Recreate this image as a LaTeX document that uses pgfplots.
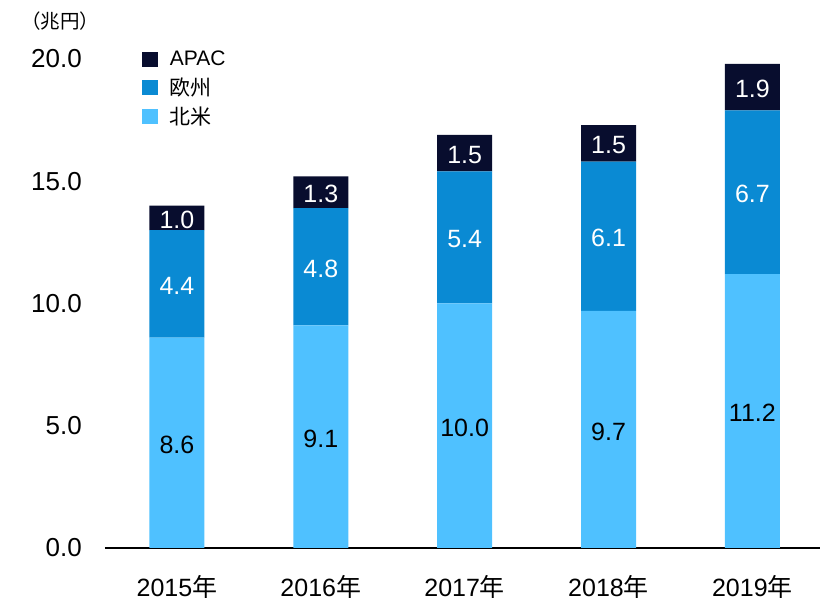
\documentclass[border=0pt]{standalone}
\usepackage{fontspec}
\setmainfont{Liberation Sans}
\newfontfamily\cjk{Noto Sans CJK JP}
\usepackage{pgfplots}
\pgfplotsset{compat=1.18}
\usepackage{pgfplotstable}
\definecolor{apac}{HTML}{080D2E}
\definecolor{eu}{HTML}{0A8AD3}
\definecolor{na}{HTML}{4FC1FF}

% values in trillion yen; m* columns are the segment midpoints for the labels
\pgfplotstableread{
x na   eu  ap  mna  meu   map
0 8.6  4.4 1.0 4.3  10.8  13.5
1 9.1  4.8 1.3 4.55 11.5  14.55
2 10.0 5.4 1.5 5.0  12.7  16.15
3 9.7  6.1 1.5 4.85 12.75 16.55
4 11.2 6.7 1.9 5.6  14.55 18.85
}\sales

\pgfplotsset{base/.style={scale only axis, width=715pt, height=489pt,
  xmin=-0.5, xmax=4.47, ymin=0, ymax=20, at={(105pt,53pt)}, anchor=south west}}
\newcommand\bigtxt{\fontsize{25}{30}\selectfont}

\begin{document}
\begin{tikzpicture}
\useasboundingbox (0,0) rectangle (828pt,601pt);
\begin{axis}[base, ybar stacked, bar width=55pt,
  axis x line*=bottom, axis y line*=left,
  axis line style={-}, y axis line style={draw=none}, x axis line style={line width=1.3pt},
  major tick length=0pt, xtick style={draw=none}, ytick style={draw=none},
  xtick=data, xticklabels={2015{\cjk 年},2016{\cjk 年},2017{\cjk 年},2018{\cjk 年},2019{\cjk 年}},
  ytick={0,5,10,15,20},
  xticklabel style={font=\bigtxt, inner sep=0pt, anchor=base, yshift=-49pt, text depth=0pt},
  yticklabel style={font=\fontsize{26}{30}\selectfont, inner sep=0pt, anchor=east, xshift=-23pt,
    /pgf/number format/.cd, fixed, fixed zerofill, precision=1, assume math mode=true},
  legend style={at={(0.052,1.021)}, anchor=north west, draw=none, fill=none,
    font=\fontsize{21}{24}\selectfont, row sep=6.5pt, column sep=10pt, inner sep=0pt,
    cells={anchor=west}},
  reverse legend,
  legend image code/.code={\fill[#1,draw=none] (0pt,-7.5pt) rectangle (15.5pt,7.5pt);}]
\addplot[fill=na, draw=none] table[x=x,y=na]{\sales};
\addplot[fill=eu, draw=none] table[x=x,y=eu]{\sales};
\addplot[fill=apac, draw=none] table[x=x,y=ap]{\sales};
\legend{{\cjk 北米},{\cjk 欧州},APAC}
\end{axis}
\begin{axis}[base, hide axis,
  nodes near coords, point meta=explicit symbolic,
  every node near coord/.append style={anchor=center, font=\bigtxt, yshift=-2pt}]
\addplot[draw=none, mark=none, nodes near coords style={text=black}] table[x=x,y=mna,meta=na]{\sales};
\addplot[draw=none, mark=none, nodes near coords style={text=white}] table[x=x,y=meu,meta=eu]{\sales};
\addplot[draw=none, mark=none, nodes near coords style={text=white}] table[x=x,y=map,meta=ap]{\sales};
\end{axis}
\node[anchor=west, inner sep=0pt, font=\cjk\fontsize{19.5}{22}\selectfont] at (21pt,580pt) {（兆円）};
\end{tikzpicture}
\end{document}
